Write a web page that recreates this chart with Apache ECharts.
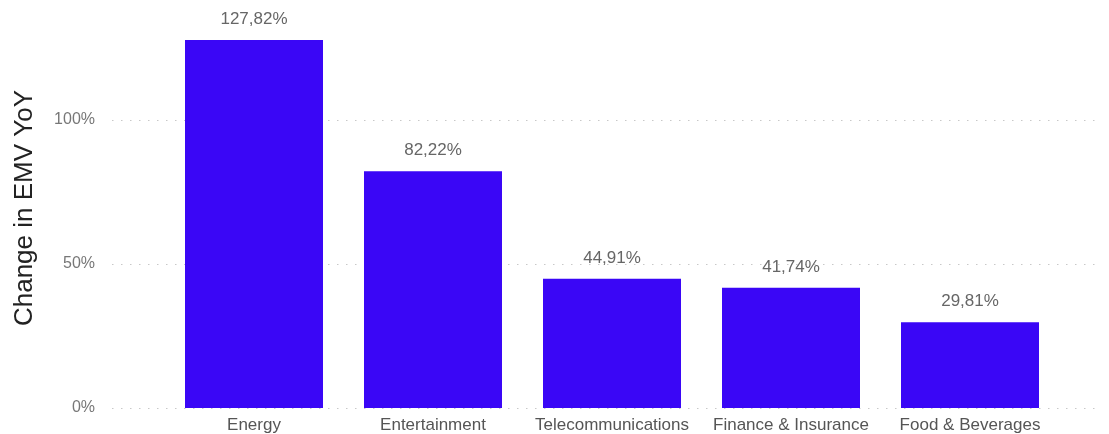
<!DOCTYPE html>
<html>
<head>
<meta charset="utf-8">
<script src="https://cdn.jsdelivr.net/npm/echarts@6/dist/echarts.min.js"></script>
<style>
  html, body { margin: 0; padding: 0; background: #fff; }
  #chart { width: 1109px; height: 434px; }
</style>
</head>
<body>
<div id="chart"></div>
<script>
// Industry categories and their year-over-year change in EMV (percent)
const categories = ['Energy', 'Entertainment', 'Telecommunications', 'Finance & Insurance', 'Food & Beverages'];
const changeYoY = [127.82, 82.22, 44.91, 41.74, 29.81];
const yTicks = [0, 50, 100];
const axisTitle = 'Change in EMV YoY';

const FONT = "'Liberation Sans', Arial, sans-serif";
const yMin = 0, yMax = 140, yStep = 50;

const chart = echarts.init(document.getElementById('chart'), null, { renderer: 'canvas' });

const fmtPct = v => v.toFixed(2).replace('.', ',') + '%';

chart.setOption({
  animation: false,
  backgroundColor: '#ffffff',
  grid: [
    // wide grid carrying the value axis labels and dotted gridlines
    { left: 112, right: 9, top: 4.8, bottom: 26 },
    // inner grid holding the bars
    { left: 164.5, right: 49.5, top: 4.8, bottom: 26 }
  ],
  xAxis: [
    { type: 'value', gridIndex: 0, show: false, min: 0, max: 1 },
    {
      type: 'category', gridIndex: 1, data: categories,
      axisLine: { show: false }, axisTick: { show: false },
      axisLabel: { color: '#555', fontSize: 17, fontFamily: FONT, margin: 9, interval: 0 }
    }
  ],
  yAxis: [
    {
      type: 'value', gridIndex: 0, min: yMin, max: yMax, interval: yStep,
      axisLine: { show: false }, axisTick: { show: false },
      axisLabel: {
        color: '#777', fontSize: 16, fontFamily: FONT, margin: 17,
        showMaxLabel: false,
        formatter: v => (yTicks.includes(v) ? v + '%' : '')
      },
      splitLine: {
        show: true, showMaxLine: false,
        lineStyle: { color: '#c8c8c8', width: 1, type: [1.5, 7.5] }
      }
    },
    {
      type: 'value', gridIndex: 1, min: yMin, max: yMax, interval: yStep, show: false,
      splitLine: { show: false }
    }
  ],
  series: [{
    type: 'bar',
    xAxisIndex: 1, yAxisIndex: 1,
    data: changeYoY,
    barWidth: 138,
    itemStyle: { color: '#3a06f6' },
    label: {
      show: true, position: 'top', distance: 12,
      color: '#666', fontSize: 17, fontFamily: FONT,
      formatter: p => fmtPct(p.value)
    }
  }],
  graphic: [{
    type: 'text',
    x: 25, y: 208,
    rotation: Math.PI / 2,
    style: {
      text: axisTitle,
      fill: '#222', fontSize: 26, fontFamily: FONT,
      textAlign: 'center', textVerticalAlign: 'middle'
    }
  }]
});
</script>
</body>
</html>
